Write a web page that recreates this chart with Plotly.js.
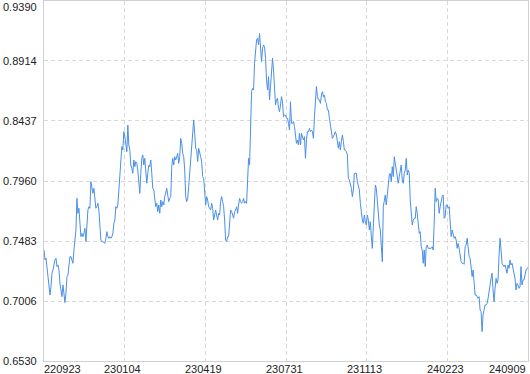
<!DOCTYPE html>
<html>
<head>
<meta charset="utf-8">
<script src="https://cdn.plot.ly/plotly-3.0.1.min.js"></script>
<style>
html,body{margin:0;padding:0;background:#fff;}
#chart{width:530px;height:374px;}
</style>
</head>
<body>
<div id="chart"></div>
<script>
// tick labels (dates, yymmdd) evenly spread along the series
const dateLabels = ["220923","230104","230419","230731","231113","240223","240909"];
// y-axis tick values
const yTicks = [0.6530, 0.7006, 0.7483, 0.7960, 0.8437, 0.8914, 0.9390];

// series values (one per day), in parts
const navPart1 = [0.7412,0.7333,0.7346,0.7280,0.7174,0.7121,0.7054,0.7121,0.7227,0.7253,
0.7306,0.7333,0.7346,0.7280,0.7293,0.7253,0.7147,0.7094,0.7041,0.7134,
0.7041,0.6994,0.7068,0.7200,0.7213,0.7280,0.7359,0.7359,0.7333,0.7306,
0.7412,0.7531,0.7571,0.7822,0.7703,0.7743,0.7650,0.7518,0.7544,0.7518,
0.7544,0.7584,0.7478,0.7650,0.7730,0.7756,0.7743,0.7955,0.7889,0.7862,
0.7902,0.7836,0.7743,0.7756,0.7783,0.7730,0.7611,0.7491,0.7478,0.7478,
0.7470,0.7465,0.7505,0.7558,0.7518,0.7505,0.7518,0.7505,0.7518,0.7544,
0.7624,0.7650,0.7756,0.7743,0.7770,0.7889,0.8021,0.8180,0.8233,0.8206,
0.8352,0.8312,0.8233];
const navPart2 = [0.8193,0.8405,0.8246,0.8206,0.8087,0.8061,0.8021,0.8127,0.8074,0.8114,
0.8100,0.8047,0.7968,0.7862,0.8021,0.8140,0.8167,0.8087,0.8140,0.8021,
0.7942,0.8021,0.8087,0.8074,0.8127,0.8021,0.7902,0.7889,0.7836,0.7756,
0.7783,0.7717,0.7769,0.7703,0.7809,0.7756,0.7796,0.7769,0.7836,0.7862,
0.7902,0.7849,0.7796,0.7822,0.7836,0.8074,0.8140,0.8087,0.8153,0.8127,
0.8167,0.8180,0.8100,0.8153,0.8299,0.8259,0.8180,0.8153,0.8047,0.7836,
0.7796,0.7822,0.7915,0.8021,0.8127,0.8233,0.8339,0.8445,0.8339,0.8220,
0.8206,0.8114,0.8220,0.8167,0.8153,0.8114,0.7995,0.7981,0.7862,0.7769,
0.7836];
const navPart3 = [0.7809,0.7756,0.7743,0.7730,0.7783,0.7743,0.7650,0.7690,0.7730,0.7690,
0.7650,0.7703,0.7690,0.7796,0.7836,0.7796,0.7756,0.7650,0.7491,0.7478,
0.7518,0.7518,0.7624,0.7730,0.7717,0.7677,0.7664,0.7717,0.7730,0.7756,
0.7703,0.7769,0.7822,0.7796,0.7783,0.7796,0.7822,0.7783,0.7796,0.7783,
0.8021,0.8140,0.8087,0.8392,0.8670,0.8696,0.8683,0.8895,0.9041,0.9080,
0.9094,0.9041,0.9133,0.8988,0.8908,0.9014,0.9041,0.9027,0.8935,0.8763,
0.8683,0.8789,0.8604,0.8710,0.8815,0.8935,0.8842,0.8670,0.8564,0.8604,
0.8617,0.8537,0.8511,0.8564,0.8630,0.8590,0.8471,0.8484,0.8484,0.8458,
0.8458];
const navPart4 = [0.8418,0.8365,0.8590,0.8418,0.8418,0.8432,0.8392,0.8312,0.8259,0.8286,
0.8246,0.8339,0.8246,0.8339,0.8312,0.8286,0.8312,0.8140,0.8286,0.8352,
0.8352,0.8378,0.8352,0.8365,0.8352,0.8299,0.8471,0.8657,0.8710,0.8630,
0.8604,0.8604,0.8577,0.8643,0.8670,0.8630,0.8643,0.8590,0.8577,0.8524,
0.8524,0.8458,0.8392,0.8365,0.8299,0.8312,0.8339,0.8352,0.8325,0.8246,
0.8220,0.8273,0.8206,0.8273,0.8325,0.8273,0.8206,0.8206,0.8193,0.8167,
0.7981,0.7968,0.7942,0.7902,0.7836,0.7889,0.8021,0.8021,0.8021,0.7955,
0.7928,0.7889,0.7783,0.7703,0.7650,0.7624,0.7690,0.7637,0.7611,0.7690,
0.7650];
const navPart5 = [0.7571,0.7637,0.7518,0.7425,0.7597,0.7836,0.7928,0.7902,0.7783,0.7663,
0.7611,0.7571,0.7438,0.7319,0.7756,0.7809,0.7849,0.7769,0.7862,0.7942,
0.8008,0.8021,0.7955,0.8074,0.7995,0.8153,0.8100,0.8034,0.8021,0.7942,
0.7995,0.8047,0.8087,0.7968,0.7942,0.8021,0.8047,0.8140,0.8008,0.8047,
0.8021,0.7809,0.7730,0.7611,0.7650,0.7663,0.7663,0.7756,0.7703,0.7637,
0.7544,0.7558,0.7438,0.7412,0.7306,0.7412,0.7280,0.7438,0.7452,0.7425,
0.7425,0.7425,0.7425,0.7438,0.7412,0.7624,0.7902,0.7796,0.7822,0.7809,
0.7703,0.7756,0.7809,0.7836,0.7849,0.7663,0.7677,0.7769,0.7769,0.7743,
0.7756];
const navPart6 = [0.7650,0.7518,0.7571,0.7518,0.7505,0.7518,0.7491,0.7425,0.7465,0.7425,
0.7359,0.7319,0.7306,0.7306,0.7298,0.7438,0.7452,0.7505,0.7438,0.7359,
0.7346,0.7293,0.7200,0.7253,0.7160,0.7054,0.7054,0.7041,0.7028,0.7041,
0.6935,0.6922,0.6763,0.6896,0.6935,0.6975,0.6975,0.6988,0.7028,0.7068,
0.7134,0.7187,0.7227,0.7094,0.7001,0.7107,0.7187,0.7147,0.7174,0.7372,
0.7505,0.7412,0.7306,0.7293,0.7280,0.7293,0.7253,0.7227,0.7293,0.7266,
0.7332,0.7293,0.7306,0.7266,0.7253,0.7187,0.7094,0.7147,0.7134,0.7107,
0.7120,0.7280,0.7134,0.7174,0.7174,0.7227,0.7253,0.7266,0.7271];

const nav = navPart1.concat(navPart2, navPart3, navPart4, navPart5, navPart6);
const N = nav.length;
const xIdx = nav.map((_, i) => i);
const xTickVals = dateLabels.map((_, i) => i * (N - 1) / (dateLabels.length - 1));

const FONT = {family: '"Liberation Sans", Arial, sans-serif', size: 11, color: '#222'};
const GRID = '#d9d9d9';
const LINE = '#d0d0d0';

const annotations = dateLabels.map((lab, i) => ({
  text: lab, x: xTickVals[i], xref: 'x', y: 0, yref: 'paper',
  xanchor: i === 0 ? 'left' : (i === dateLabels.length - 1 ? 'right' : 'center'),
  yanchor: 'top', showarrow: false, font: FONT,
  xshift: i === 0 ? -2 : (i === dateLabels.length - 1 ? 0 : -2), yshift: 0
}));
// y labels; the top one is kept inside the picture
yTicks.forEach((v, i) => {
  const top = i === yTicks.length - 1;
  annotations.push({
    text: v.toFixed(4), x: 0, xref: 'paper', y: v, yref: 'y',
    xanchor: 'right', yanchor: top ? 'top' : 'middle',
    xshift: -5, yshift: top ? 2 : 0, showarrow: false, font: FONT
  });
});

const trace = {
  x: xIdx, y: nav, type: 'scatter', mode: 'lines',
  line: {color: '#4a8fe8', width: 1}, hoverinfo: 'skip'
};

const layout = {
  width: 530, height: 374,
  margin: {l: 44, r: 2, t: 1, b: 13, pad: 0},
  paper_bgcolor: '#fff', plot_bgcolor: '#fff',
  showlegend: false,
  xaxis: {
    range: [0, N - 1], tickvals: xTickVals, showticklabels: false,
    showgrid: true, gridcolor: GRID, griddash: '4px,3px', gridwidth: 1,
    showline: true, linecolor: LINE, linewidth: 1, mirror: true,
    zeroline: false, ticks: '', fixedrange: true
  },
  yaxis: {
    range: [yTicks[0], yTicks[yTicks.length - 1]],
    tickvals: yTicks, showticklabels: false,
    showgrid: true, gridcolor: GRID, griddash: '4px,3px', gridwidth: 1,
    showline: true, linecolor: LINE, linewidth: 1, mirror: true,
    zeroline: false, ticks: '', fixedrange: true
  },
  annotations: annotations
};

Plotly.newPlot('chart', [trace], layout, {displayModeBar: false, staticPlot: true});
</script>
</body>
</html>
